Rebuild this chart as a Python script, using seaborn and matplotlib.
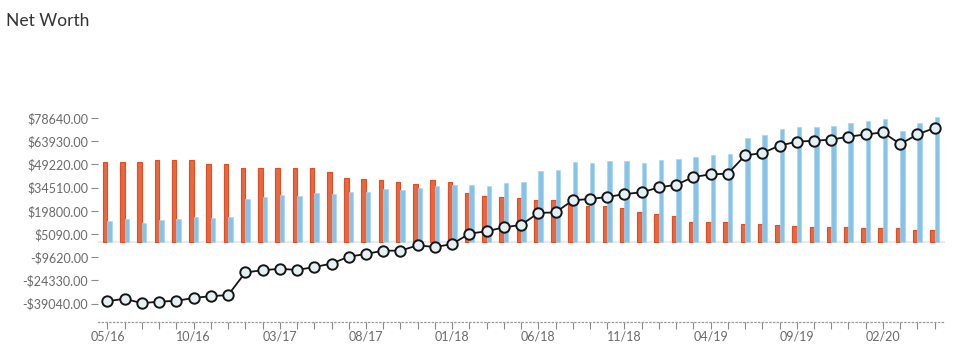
import numpy as np
import pandas as pd
import matplotlib
matplotlib.use("Agg")
import matplotlib.pyplot as plt
import seaborn as sns

months = ["05/16", "06/16", "07/16", "08/16", "09/16", "10/16", "11/16", "12/16",
          "01/17", "02/17", "03/17", "04/17", "05/17", "06/17", "07/17", "08/17",
          "09/17", "10/17", "11/17", "12/17", "01/18", "02/18", "03/18", "04/18",
          "05/18", "06/18", "07/18", "08/18", "09/18", "10/18", "11/18", "12/18",
          "01/19", "02/19", "03/19", "04/19", "05/19", "06/19", "07/19", "08/19",
          "09/19", "10/19", "11/19", "12/19", "01/20", "02/20", "03/20", "04/20",
          "05/20"]

liabilities = [51000, 51000, 51000, 52300, 52200, 51700, 49400, 49400,
               46700, 46700, 46700, 46900, 47100, 44100, 40800, 39900,
               39300, 38000, 37000, 39300, 38200, 31300, 29200, 28500,
               27900, 26800, 26800, 24600, 23000, 22600, 21300, 18800,
               17700, 16300, 12700, 12500, 12900, 11400, 11400, 10600,
               9900, 9300, 9300, 9300, 8900, 8900, 8900, 7600,
               7600]

assets = [13100, 14800, 11800, 14200, 14600, 16100, 15000, 15600,
          27000, 28500, 29600, 29200, 30800, 30200, 31500, 31700,
          33800, 32700, 34200, 35300, 36300, 36300, 35500, 37200,
          38000, 45000, 45400, 50900, 50300, 51100, 51300, 50100,
          52200, 52600, 53700, 54900, 55800, 65900, 67600, 71400,
          72900, 72900, 73700, 75600, 76900, 77800, 70400, 75200,
          79400]

net_worth = [-37500, -36000, -38800, -37800, -37300, -35500, -34300, -33700,
             -19300, -17900, -17000, -17700, -15900, -13700, -9300, -7600,
             -5500, -5500, -2100, -3200, -1300, 5300, 6800, 9300,
             10800, 18400, 18800, 26400, 27300, 28500, 30400, 31500,
             34600, 36300, 41200, 42900, 43300, 54900, 56400, 61100,
             63600, 64200, 64900, 66800, 68200, 69500, 62100, 68200,
             72300]

y_ticks = [-39040, -24330, -9620, 5090, 19800, 34510, 49220, 63930, 78640]

n = len(months)

sns.set_theme(style="white")
plt.rcParams['font.family'] = ['Lato', 'DejaVu Sans']

fig = plt.figure(figsize=(9.71, 3.53), dpi=100)
ax = fig.add_axes([98 / 971, 1 - 322 / 353, (945 - 98) / 971, (322 - 105) / 353])

df = pd.DataFrame({
    "month": months * 2,
    "value": liabilities + assets,
    "kind": ["Liabilities"] * n + ["Assets"] * n,
})

sns.barplot(data=df, x="month", y="value", hue="kind",
            hue_order=["Liabilities", "Assets"], order=months,
            palette={"Liabilities": "#E9673F", "Assets": "#86C3E9"},
            width=0.52, dodge=True, saturation=1, linewidth=0,
            legend=False, ax=ax, zorder=2)

for bar in ax.containers[0]:
    bar.set_edgecolor("#E24C22")
    bar.set_linewidth(0.8)
for bar in ax.containers[1]:
    bar.set_edgecolor("#A9D5F0")
    bar.set_linewidth(0.5)

ax.axhline(0, color="#e6e6e6", lw=1.2, zorder=1)

sns.lineplot(x=np.arange(n), y=net_worth, ax=ax, color="#151515", lw=1.3,
             marker="o", markersize=7.5, markerfacecolor="#E3F1F5",
             markeredgecolor="#151515", markeredgewidth=1.4, zorder=5)

ax.set_xlim(-0.55, 48.6)
ax.set_ylim(-50720, 86860)

for s in ["top", "right", "left"]:
    ax.spines[s].set_visible(False)
ax.spines["bottom"].set_linestyle((0, (1, 2)))
ax.spines["bottom"].set_color("#9a9a9a")
ax.spines["bottom"].set_linewidth(0.9)

ax.set_xticks(range(0, n, 5), labels=months[::5])
ax.set_xticks(range(n), minor=True)
ax.tick_params(axis="x", which="both", bottom=True, length=5, width=0.8,
               color="#8a8a8a", direction="out", labelsize=9,
               labelcolor="#6a6a6a", pad=1)

ylabels = [("-$%d.00" % abs(v)) if v < 0 else ("$%d.00" % v) for v in y_ticks]
ax.set_yticks(y_ticks, labels=ylabels)
ax.tick_params(axis="y", left=True, length=5, width=0.8, color="#8a8a8a",
               labelsize=9, labelcolor="#6a6a6a", pad=2)

ax.set_xlabel("")
ax.set_ylabel("")
ax.grid(False)

fig.text(6 / 971, 1 - 21 / 353, "Net Worth", fontsize=12.5, color="#333333",
         ha="left", va="center")

fig.savefig("out.png", dpi=100)
